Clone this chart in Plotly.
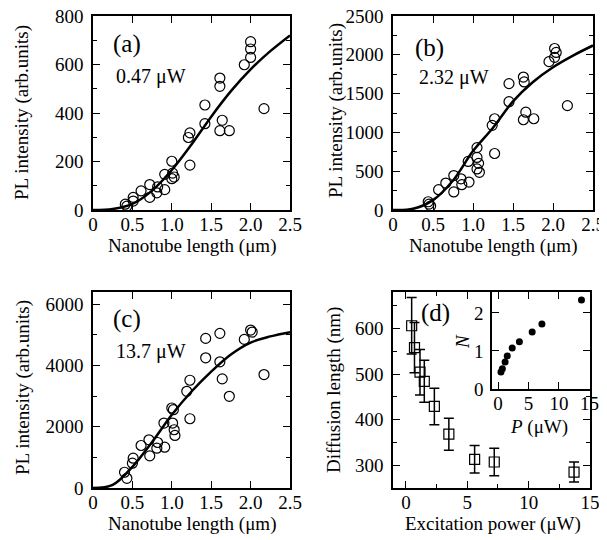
import plotly.graph_objects as go

# fit curve sample positions (nanotube length, um)
fit_len = [0, 0.25, 0.5, 0.75, 1.0, 1.25, 1.5, 1.75, 2.0, 2.25, 2.5]
fit_a = [0, 4, 25, 80, 165, 270, 385, 490, 580, 655, 720]
fit_b = [0, 15, 127, 380, 760, 1060, 1400, 1650, 1840, 1990, 2120]
fit_c = [0, 100, 690, 1500, 2390, 3150, 3800, 4360, 4750, 4950, 5090]

# (a) 0.47 uW
len_a = [0.41, 0.43, 0.51, 0.51, 0.61, 0.72, 0.72, 0.81, 0.82, 0.91, 0.91, 1.0, 1.01, 1.03, 1.0,
         1.21, 1.23, 1.23, 1.42, 1.42, 1.61, 1.61, 1.64, 1.61, 1.73, 1.92, 2.0, 2.0, 2.0, 2.17]
pl_a = [24, 16, 52, 37, 79, 105, 52, 71, 95, 84, 147, 201, 152, 136, 129,
        299, 318, 185, 433, 356, 544, 510, 370, 327, 327, 599, 629, 664, 694, 418]

# (b) 2.32 uW
len_b = [0.44, 0.45, 0.47, 0.57, 0.66, 0.76, 0.76, 0.85, 0.86, 0.94, 0.95, 1.05, 1.05, 1.07, 1.05, 1.08,
         1.24, 1.27, 1.27, 1.45, 1.45, 1.63, 1.64, 1.66, 1.63, 1.76, 1.95, 2.02, 2.04, 2.02, 2.18]
pl_b = [106, 76, 51, 262, 347, 444, 233, 402, 326, 626, 360, 804, 677, 601, 529, 486,
        1091, 1176, 728, 1629, 1396, 1713, 1650, 1260, 1163, 1176, 1912, 2081, 2030, 1967, 1345]

# (c) 13.7 uW
len_c = [0.40, 0.43, 0.50, 0.51, 0.61, 0.71, 0.72, 0.81, 0.82, 0.91, 0.90, 1.0, 1.02, 1.01, 1.03, 1.04,
         1.19, 1.23, 1.23, 1.43, 1.43, 1.61, 1.61, 1.64, 1.73, 1.92, 2.0, 2.02, 2.17]
pl_c = [514, 317, 809, 973, 1388, 1574, 1049, 1300, 1486, 1333, 2120, 2612, 2557, 2120, 1902, 1716,
        3158, 3519, 2262, 4885, 4251, 5049, 4120, 3563, 2994, 4852, 5158, 5093, 3705]

# (d) diffusion length vs excitation power
power = [0.47, 0.7, 1.15, 1.5, 2.32, 3.5, 5.6, 7.2, 13.7]
diff_len = [606, 558, 504, 484, 429, 368, 313, 307, 285]
diff_err = [62, 55, 50, 46, 40, 35, 30, 30, 22]

# inset N vs P
inset_p = [0.47, 0.7, 1.15, 1.5, 2.32, 3.5, 5.6, 7.2, 13.7]
inset_n = [0.45, 0.53, 0.71, 0.87, 1.08, 1.24, 1.5, 1.71, 2.34]

len_ticks = [0, 0.5, 1.0, 1.5, 2.0, 2.5]
len_ticktext = ["0", "0.5", "1.0", "1.5", "2.0", "2.5"]

FONT = "Liberation Serif"
W, H = 607, 540
OFF = 8  # the page body margin shifts the figure by this much


def dom_x(a, b):
    return [(a - OFF) / W, (b - OFF) / W]


def dom_y(top, bottom):
    return [1 - (bottom - OFF) / H, 1 - (top - OFF) / H]


def axis_style(**kw):
    base = dict(
        showline=True, linecolor="black", linewidth=1.6, mirror="ticks",
        ticks="inside", ticklen=7, tickwidth=1.3, tickcolor="black",
        showgrid=False, zeroline=False, automargin=False, ticklabeloverflow="allow",
        tickfont=dict(family=FONT, size=19, color="black"),
    )
    base.update(kw)
    return base


def minor(step):
    return dict(ticks="inside", ticklen=4, dtick=step, tickcolor="black", tickwidth=1.2)


fig = go.Figure()

circle = dict(symbol="circle-open", size=10, color="black", line=dict(width=1.2, color="black"))
fit_line = dict(color="black", width=2.5, shape="spline")

for xs, ys, fx, fy, n in [(len_a, pl_a, fit_len, fit_a, ""), (len_b, pl_b, fit_len, fit_b, "2"),
                          (len_c, pl_c, fit_len, fit_c, "3")]:
    fig.add_trace(go.Scatter(x=fx, y=fy, mode="lines", line=fit_line, xaxis="x" + n, yaxis="y" + n,
                             showlegend=False))
    fig.add_trace(go.Scatter(x=xs, y=ys, mode="markers", marker=circle, xaxis="x" + n, yaxis="y" + n,
                             showlegend=False))

fig.add_trace(go.Scatter(
    x=power, y=diff_len, mode="markers", xaxis="x4", yaxis="y4", showlegend=False,
    marker=dict(symbol="square-open", size=10, color="black", line=dict(width=1.2, color="black")),
    error_y=dict(type="data", array=diff_err, width=5, thickness=1.5, color="black"),
))

fig.add_trace(go.Scatter(
    x=inset_p, y=inset_n, mode="markers", xaxis="x5", yaxis="y5", showlegend=False,
    marker=dict(symbol="circle", size=7, color="black"),
))

len_axis = dict(range=[0, 2.5], tickvals=len_ticks, ticktext=len_ticktext, ticklabelstandoff=-4)

fig.update_layout(
    width=W, height=H,
    margin=dict(l=0, r=0, t=0, b=0),
    paper_bgcolor="white", plot_bgcolor="white",
    font=dict(family=FONT, color="black"),
    xaxis=axis_style(domain=dom_x(93, 290), anchor="y", **len_axis),
    yaxis=axis_style(domain=dom_y(16, 210), anchor="x", range=[0, 800], dtick=200,
                     minor=minor(100), ticklabelstandoff=4),
    xaxis2=axis_style(domain=dom_x(393, 593), anchor="y2", **len_axis),
    yaxis2=axis_style(domain=dom_y(16, 210), anchor="x2", range=[0, 2500], dtick=500,
                      minor=minor(250), ticklabelstandoff=4),
    xaxis3=axis_style(domain=dom_x(93, 290), anchor="y3", **len_axis),
    yaxis3=axis_style(domain=dom_y(292, 488), anchor="x3", range=[0, 6400], dtick=2000,
                      minor=minor(1000), ticklabelstandoff=4),
    xaxis4=axis_style(domain=dom_x(393, 590), anchor="y4", range=[-1.05, 15], dtick=5,
                      minor=minor(2.5), ticklabelstandoff=-4),
    yaxis4=axis_style(domain=dom_y(292, 488), anchor="x4", range=[250, 680], dtick=100,
                      minor=minor(50), ticklabelstandoff=4),
    xaxis5=axis_style(domain=dom_x(492, 590), anchor="y5", range=[-1, 15.1], dtick=5,
                      ticklabelstandoff=-4),
    yaxis5=axis_style(domain=dom_y(292, 389), anchor="x5", range=[0, 2.55], dtick=1,
                      ticklabelstandoff=3),
)

# axis titles, placed at pixel positions of the original figure
len_title = "Nanotube length (μm)"
pl_title = "PL intensity (arb.units)"
title_font = dict(family=FONT, size=19, color="black")
for px, py, text, angle in [
    (22, 113, pl_title, -90),
    (336, 111, pl_title, -90),
    (23, 388, pl_title, -90),
    (334, 390, "Diffusion length (nm)", -90),
    (192, 246, len_title, 0),
    (493, 246, len_title, 0),
    (192, 524, len_title, 0),
    (493, 524, "Excitation power (μW)", 0),
    (539, 427, "<i>P</i> (μW)", 0),
    (462, 342, "<i>N</i>", -90),
]:
    fig.add_annotation(x=(px - OFF) / W, y=1 - (py - OFF) / H, xref="paper", yref="paper",
                       text=text, textangle=angle, showarrow=False,
                       xanchor="center", yanchor="middle", font=title_font)

ann_font = dict(family=FONT, size=25, color="black")
txt_font = dict(family=FONT, size=20, color="black")
for xr, yr, x, y, text, f in [
    ("x", "y", 0.23, 686, "(a)", ann_font),
    ("x", "y", 0.27, 551, "0.47 μW", txt_font),
    ("x2", "y2", 0.25, 2094, "(b)", ann_font),
    ("x2", "y2", 0.30, 1713, "2.32 μW", txt_font),
    ("x3", "y3", 0.23, 5508, "(c)", ann_font),
    ("x3", "y3", 0.27, 4459, "13.7 μW", txt_font),
    ("x4", "y4", 1.06, 635, "(d)", ann_font),
]:
    fig.add_annotation(x=x, y=y, xref=xr, yref=yr, text=text, showarrow=False,
                       xanchor="left", yanchor="middle", font=f)

fig.write_html("out.html")
